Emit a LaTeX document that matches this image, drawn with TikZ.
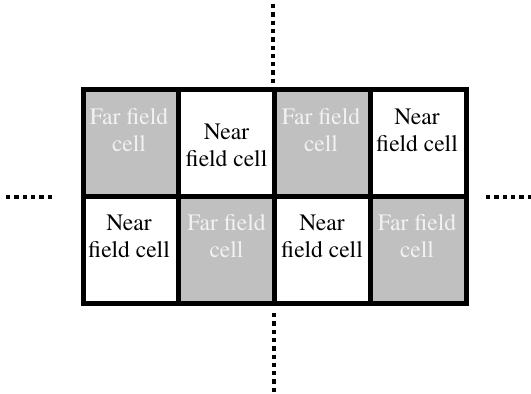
\documentclass[tikz,border=0pt]{standalone}
\usepackage{fontspec}
\setmainfont{texgyretermes}[Extension=.otf, UprightFont=*-regular, BoldFont=*-bold, ItalicFont=*-italic, BoldItalicFont=*-bolditalic]
\newfontfamily\cellfont{texgyretermes}[Extension=.otf, UprightFont=*-regular, BoldFont=*-bold, ItalicFont=*-italic, BoldItalicFont=*-bolditalic]
\definecolor{cellgray}{RGB}{192,192,192}
\definecolor{fartext}{RGB}{242,242,242}
\begin{document}
\begin{tikzpicture}[x=1pt,y=-1pt,
  cellbox/.style={draw=black, line width=5pt, minimum width=95.5pt, minimum height=107.5pt, inner sep=0pt, outer sep=0pt},
  farcell/.style={cellbox, fill=cellgray},
  nearcell/.style={cellbox, fill=white},
  fartxt/.style={text=fartext, align=center, font=\cellfont\fontsize{23.5}{27}\selectfont, inner sep=0pt},
  neartxt/.style={text=black, align=center, font=\cellfont\fontsize{23.5}{27}\selectfont, inner sep=0pt},
  dotline/.style={line width=4.5pt, dash pattern=on 4.3pt off 4pt, line cap=butt}]
\useasboundingbox (0,0) rectangle (531,394);
% cells
\node[farcell]  (c11) at (130.75,142.75) {};
\node[nearcell] (c12) at (226.5,142.75) {};
\node[farcell]  (c13) at (322.5,142.75) {};
\node[nearcell] (c14) at (418.25,142.75) {};
\node[nearcell] (c21) at (130.75,250) {};
\node[farcell]  (c22) at (226.5,250) {};
\node[nearcell] (c23) at (322.5,250) {};
\node[farcell]  (c24) at (418.25,250) {};
% labels
\node[fartxt]  (t11) at (129,130.5) {Far field\\cell};
\node[neartxt] (t12) at (226.5,145) {Near\\field cell};
\node[fartxt]  (t13) at (321,130.5) {Far field\\cell};
\node[neartxt] (t14) at (417,130.5) {Near\\field cell};
\node[neartxt] (t21) at (129,236.5) {Near\\field cell};
\node[fartxt]  (t22) at (226.5,236.5) {Far field\\cell};
\node[neartxt] (t23) at (322,236.5) {Near\\field cell};
\node[fartxt]  (t24) at (417,236.5) {Far field\\cell};
% dotted continuations
\coordinate (topA) at (273,4);
\coordinate (topB) at (273,83);
\coordinate (botA) at (274,313);
\coordinate (botB) at (274,392);
\coordinate (leftA) at (6,197);
\coordinate (leftB) at (54,197);
\coordinate (rightA) at (486,197);
\coordinate (rightB) at (531,197);
\draw[dotline] (topA) -- (topB);
\draw[dotline] (botA) -- (botB);
\draw[dotline] (leftA) -- (leftB);
\draw[dotline] (rightA) -- (rightB);
\end{tikzpicture}
\end{document}
